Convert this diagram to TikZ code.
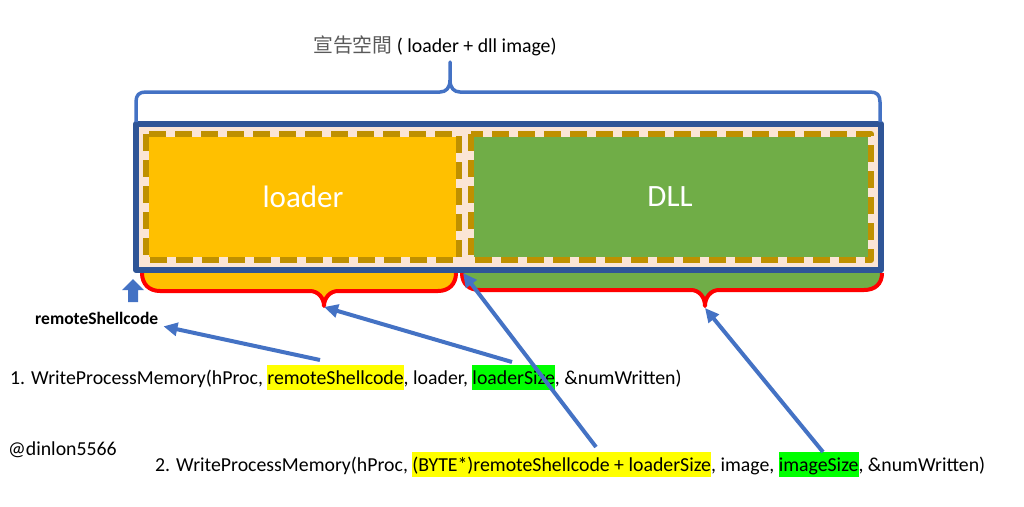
\documentclass[tikz,border=0pt]{standalone}
\usepackage{fontspec}
\setmainfont{Carlito}
\newfontfamily\cjk{Noto Sans CJK TC}
\usetikzlibrary{arrows.meta}
\definecolor{boxblue}{HTML}{2F5597}
\definecolor{lineblue}{HTML}{4472C4}
\definecolor{loaderorange}{HTML}{FFC000}
\definecolor{dllgreen}{HTML}{70AD47}
\definecolor{dashgold}{HTML}{BF9000}
\definecolor{peach}{HTML}{FBE5D6}
\definecolor{hlyellow}{HTML}{FFFF00}
\definecolor{hlgreen}{HTML}{00FF00}
\definecolor{cjkgray}{HTML}{595959}
\newcommand\hlword[2]{{\setlength\fboxsep{0pt}\colorbox{#1}{\rule[-6pt]{0pt}{25pt}#2}}}
\begin{document}
\begin{tikzpicture}[x=1pt, y=-1pt, line join=round,
		ptr/.style={lineblue, line width=4pt, -{Triangle[length=14pt,width=13pt]}},
		codeline/.style={anchor=base west, inner sep=0pt, font=\fontsize{19.8}{25}\selectfont},
		brace/.style={red, line width=4pt},
		memdash/.style={dashgold, line width=6pt, dash pattern=on 17pt off 9pt},
		blocktxt/.style={white, font=\fontsize{31}{36}\selectfont}]
	\useasboundingbox (0,0) rectangle (1024,506);
	% filled braces below the region
	\fill[loaderorange] (142,270) -- (142,273) .. controls (142,284) and (149,291) .. (160,291) -- (310,291) .. controls (318,291) and (324,298) .. (324,306) .. controls (324,298) and (330,291) .. (338,291) -- (438,291) .. controls (449,291) and (456,284) .. (456,273) -- (456,270) -- cycle;
	\fill[dllgreen] (462,270) -- (462,273) .. controls (462,284) and (469,290) .. (480,290) -- (691,290) .. controls (699,290) and (705,297) .. (705,306) .. controls (705,297) and (711,290) .. (719,290) -- (864,290) .. controls (875,290) and (882,284) .. (882,273) -- (882,270) -- cycle;
	\draw[brace] (142,273) .. controls (142,284) and (149,291) .. (160,291) -- (310,291) .. controls (318,291) and (324,298) .. (324,306) .. controls (324,298) and (330,291) .. (338,291) -- (438,291) .. controls (449,291) and (456,284) .. (456,273);
	\draw[brace] (462,273) .. controls (462,284) and (469,290) .. (480,290) -- (691,290) .. controls (699,290) and (705,297) .. (705,306) .. controls (705,297) and (711,290) .. (719,290) -- (864,290) .. controls (875,290) and (882,284) .. (882,273);
	% the allocated region
	\fill[peach] (136,124) rectangle (881,270);
	\fill[loaderorange] (149,137) rectangle (456,257);
	\fill[dllgreen] (474,137) rectangle (868,257);
	\draw[memdash] (146,134) rectangle (459,260);
	\draw[memdash] (471,134) rectangle (871,260);
	\draw[boxblue, line width=6pt] (136,124) rectangle (881,270);
	\node[blocktxt] (loader) at (303,197) {loader};
	\node[blocktxt] (dll) at (670,197) {DLL};
	% brace over the region
	\draw[lineblue, line width=3.5pt] (136,122) -- (136,102) .. controls (136,95) and (139,92) .. (146,92) -- (440,92) .. controls (446,92) and (450,88) .. (450,80) -- (450,62) -- (450,80) .. controls (450,88) and (454,92) .. (460,92) -- (870,92) .. controls (877,92) and (880,95) .. (880,102) -- (880,122);
	\node[codeline] (title) at (313,52) {{\cjk\color{cjkgray}宣告空間} ( loader + dll image)};
	% start address
	\fill[lineblue] (128,302) -- (128,290) -- (122,290) -- (133,279) -- (144,290) -- (138,290) -- (138,302) -- cycle;
	\node[codeline, font=\bfseries\fontsize{17.5}{21}\selectfont] (rs) at (35,324) {remoteShellcode};
	\node[codeline] (call1) at (10,384) {1. WriteProcessMemory(hProc, \hlword{hlyellow}{remoteShellcode}, loader, \hlword{hlgreen}{loaderSize}, \&numWritten)};
	\node[codeline] (sign) at (8,455) {@dinlon5566};
	\node[codeline] (call2) at (155,471) {2. WriteProcessMemory(hProc, \hlword{hlyellow}{(BYTE*)remoteShellcode + loaderSize}, image, \hlword{hlgreen}{imageSize}, \&numWritten)};
	% pointers
	\coordinate (ldtip) at (324,307);
	\coordinate (dlltip) at (705,308);
	\coordinate (split) at (463,273);
	\coordinate (rsarg) at (320,360);
	\coordinate (ldsize) at (512,362);
	\coordinate (dllbase) at (596,447);
	\coordinate (imgsize) at (823,452);
	\draw[ptr] (rsarg) -- ([xshift=5pt,yshift=-2pt]rs.south east);
	\draw[ptr] (ldsize) -- (ldtip);
	\draw[ptr] (dllbase) -- (split);
	\draw[ptr] (imgsize) -- (dlltip);
\end{tikzpicture}
\end{document}
